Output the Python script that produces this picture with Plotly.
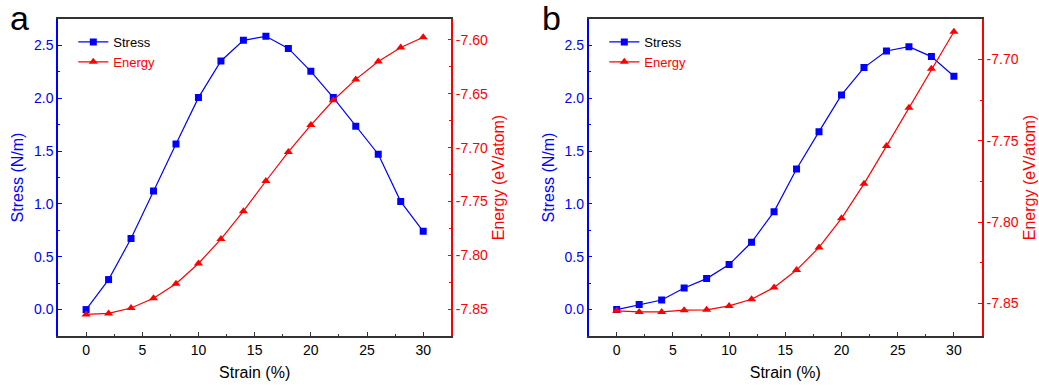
import plotly.graph_objects as go

strain = [0, 2, 4, 6, 8, 10, 12, 14, 16, 18, 20, 22, 24, 26, 28, 30]

stress_a = [0.0, 0.284, 0.672, 1.123, 1.567, 2.006, 2.353, 2.548, 2.586, 2.472,
            2.255, 2.006, 1.735, 1.470, 1.022, 0.741]
energy_a = [-7.855, -7.854, -7.849, -7.840, -7.8265, -7.8076, -7.785, -7.759, -7.731,
            -7.704, -7.679, -7.656, -7.6366, -7.620, -7.607, -7.5975]

stress_b = [0.0, 0.047, 0.091, 0.205, 0.293, 0.426, 0.637, 0.927, 1.331, 1.684,
            2.031, 2.290, 2.447, 2.488, 2.394, 2.208]
energy_b = [-7.8545, -7.8552, -7.8552, -7.8541, -7.8539, -7.8515, -7.8474, -7.8402,
            -7.8295, -7.8156, -7.7977, -7.7765, -7.7533, -7.7298, -7.7058, -7.683]

x_ticks = [0, 5, 10, 15, 20, 25, 30]
stress_ticks = [0.0, 0.5, 1.0, 1.5, 2.0, 2.5]
energy_a_ticks = [-7.60, -7.65, -7.70, -7.75, -7.80, -7.85]
energy_b_ticks = [-7.70, -7.75, -7.80, -7.85]

FONT = "Liberation Sans, Arial, sans-serif"
BLUE = "#0000ff"
RED = "#ff0000"
DARK = "#333333"
W, H = 1039, 386

# plot-area box in pixels (covers both panels)
L, R, T, B = 57.7, 981.7, 19.0, 335.7
PW, PH = R - L, B - T

def px(xp):
    return (xp - L) / PW

def py(yp):
    return (B - yp) / PH

fig = go.Figure()

def add_panel(stress, energy, xa, ya, ya2, leg):
    fig.add_trace(go.Scatter(x=strain, y=stress, name="Stress", mode="lines+markers",
                             line=dict(color=BLUE, width=1.2),
                             marker=dict(symbol="square", size=7, color=BLUE),
                             xaxis=xa, yaxis=ya, legend=leg))
    fig.add_trace(go.Scatter(x=strain, y=energy,
                             name="<span style='color:#ff0000'>Energy</span>",
                             mode="lines+markers",
                             line=dict(color=RED, width=1.2),
                             marker=dict(symbol="triangle-up", size=8, color=RED),
                             xaxis=xa, yaxis=ya2, legend=leg))

add_panel(stress_a, energy_a, "x", "y", "y2", "legend")
add_panel(stress_b, energy_b, "x2", "y3", "y4", "legend2")

xdom_a = [0, px(451)]
xdom_b = [px(588.3), 1]

def xaxis(dom, anchor):
    return dict(domain=dom, anchor=anchor, range=[-2.5, 32.5], automargin=False,
                showgrid=False, zeroline=False,
                showline=True, linecolor=DARK, linewidth=1.5, mirror=True,
                ticks="inside", ticklen=4, tickwidth=1, tickcolor=DARK,
                tickvals=x_ticks, tickfont=dict(size=14, color="black", family=FONT),
                minor=dict(ticks="inside", ticklen=2.5, dtick=2.5, tick0=0, tickcolor=DARK),
                title=dict(text="Strain (%)", font=dict(size=16, color="black", family=FONT),
                           standoff=10))

def stress_axis(anchor):
    return dict(domain=[0, 1], anchor=anchor, range=[-0.25, 2.75], automargin=False,
                showgrid=False, zeroline=False,
                showline=True, linecolor=BLUE, linewidth=1.5,
                ticks="inside", ticklen=4, tickwidth=1, tickcolor=BLUE,
                tickvals=stress_ticks, tickformat=".1f",
                tickfont=dict(size=14, color=BLUE, family=FONT),
                minor=dict(ticks="inside", ticklen=2.5, dtick=0.25, tick0=0, tickcolor=BLUE),
                title=dict(text="Stress (N/m)", font=dict(size=16, color=BLUE, family=FONT),
                           standoff=6))

def energy_axis(anchor, over, rng, ticks):
    minor_vals = [t + 0.025 for t in ticks] + [ticks[-1] - 0.025]
    return dict(overlaying=over, anchor=anchor, side="right", range=rng, automargin=False,
                showgrid=False, zeroline=False,
                showline=True, linecolor=RED, linewidth=1.5,
                ticks="inside", ticklen=4, tickwidth=1, tickcolor=RED,
                tickvals=ticks, ticktext=["-%.2f" % abs(t) for t in ticks],
                tickfont=dict(size=14, color=RED, family=FONT),
                minor=dict(ticks="inside", ticklen=2.5, tickvals=minor_vals, tickcolor=RED),
                title=dict(text="Energy (eV/atom)", font=dict(size=16, color=RED, family=FONT),
                           standoff=6))

def legend(xp):
    return dict(x=px(xp), y=py(27), xanchor="left", yanchor="top",
                bgcolor="rgba(0,0,0,0)", borderwidth=0,
                font=dict(size=13, color="black", family=FONT),
                tracegroupgap=0, itemwidth=30)

fig.update_layout(
    width=W, height=H, autosize=False,
    margin=dict(l=L, r=W - R, t=T, b=H - B, pad=0, autoexpand=False),
    paper_bgcolor="white", plot_bgcolor="white",
    font=dict(family=FONT),
    showlegend=True,
    xaxis=xaxis(xdom_a, "y"),
    yaxis=stress_axis("x"),
    yaxis2=energy_axis("x", "y", [-7.875, -7.5805], energy_a_ticks),
    xaxis2=xaxis(xdom_b, "y3"),
    yaxis3=stress_axis("x2"),
    yaxis4=energy_axis("x2", "y3", [-7.870, -7.6752], energy_b_ticks),
    legend=legend(73),
    legend2=legend(604),
    annotations=[
        dict(text="a", xref="paper", yref="paper", x=px(8), y=py(39),
             xanchor="left", yanchor="bottom", showarrow=False,
             font=dict(size=34, color="black", family=FONT)),
        dict(text="b", xref="paper", yref="paper", x=px(540), y=py(39),
             xanchor="left", yanchor="bottom", showarrow=False,
             font=dict(size=34, color="black", family=FONT)),
    ],
)

fig.write_html("out.html", config={"displayModeBar": False},
               post_script="document.body.style.margin='0px';document.body.style.overflow='hidden';")
